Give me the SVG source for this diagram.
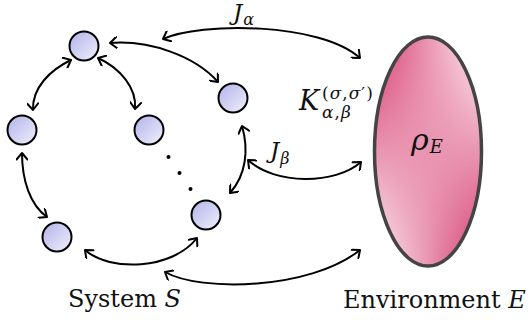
<svg xmlns="http://www.w3.org/2000/svg" width="530" height="320" viewBox="0 0 530 320">
  <style>
    .node { fill: url(#nodeGrad); stroke: #000; stroke-width: 2; }
    .conn { fill: none; stroke: #000; stroke-width: 2; marker-start: url(#arr); marker-end: url(#arr); }
    text { font-family: 'DejaVu Serif', 'Liberation Serif', serif; fill: #111; }
    .it { font-style: italic; }
  </style>
  <defs>
    <linearGradient id="nodeGrad" x1="0" y1="0" x2="1" y2="1">
      <stop offset="0" stop-color="#b2b2ea"/>
      <stop offset="1" stop-color="#f0f0fc"/>
    </linearGradient>
    <linearGradient id="envTop" gradientUnits="userSpaceOnUse" x1="374" y1="0" x2="482" y2="0">
      <stop offset="0" stop-color="#d4356a"/>
      <stop offset="1" stop-color="#fff6f9"/>
    </linearGradient>
    <linearGradient id="envBottom" gradientUnits="userSpaceOnUse" x1="374" y1="0" x2="482" y2="0">
      <stop offset="0" stop-color="#fff6f9"/>
      <stop offset="1" stop-color="#d4356a"/>
    </linearGradient>
    <linearGradient id="vFade" gradientUnits="userSpaceOnUse" x1="0" y1="37" x2="0" y2="266">
      <stop offset="0" stop-color="#fff"/>
      <stop offset="1" stop-color="#000"/>
    </linearGradient>
    <mask id="topMask" maskUnits="userSpaceOnUse" x="360" y="20" width="140" height="270">
      <rect x="360" y="20" width="140" height="270" fill="url(#vFade)"/>
    </mask>
    <clipPath id="envClip">
      <ellipse cx="428" cy="151.5" rx="53.5" ry="114.5"/>
    </clipPath>
    <marker id="arr" viewBox="-8 -6 10 12" refX="0" refY="0" markerWidth="10" markerHeight="12" markerUnits="userSpaceOnUse" orient="auto-start-reverse">
      <path d="M-6.5,-5.5 L0,0 L-6.5,5.5" fill="none" stroke="#000" stroke-width="2" stroke-linecap="round" stroke-linejoin="round"/>
    </marker>
  </defs>

  <g id="connectors">
    <path class="conn" d="M110,43 C150,40 195,56 218,82"/>
    <path class="conn" d="M71,60 C50,70 32,88 33,110"/>
    <path class="conn" d="M98,58 C120,68 137,88 135,109"/>
    <path class="conn" d="M242,126 C249,150 246,175 230,193"/>
    <path class="conn" d="M22,153 C22,180 30,205 47,217"/>
    <path class="conn" d="M85,250 C110,272 172,270 197,238"/>
    <path class="conn" d="M163,39 C200,22 320,22 360,58"/>
    <path class="conn" d="M248,160 C275,185 335,185 361,162"/>
    <path class="conn" d="M165,272 C200,292 310,290 360,250"/>
  </g>

  <g id="n1"><circle class="node" cx="84" cy="46" r="14.5"/></g>
  <g id="n2"><circle class="node" cx="233" cy="98" r="14.5"/></g>
  <g id="n3"><circle class="node" cx="22" cy="130" r="14.5"/></g>
  <g id="n4"><circle class="node" cx="149" cy="130" r="14.5"/></g>
  <g id="n5"><circle class="node" cx="57" cy="237" r="14.5"/></g>
  <g id="n6"><circle class="node" cx="206" cy="215" r="14.5"/></g>

  <g id="dots" fill="#000">
    <circle cx="168.5" cy="157" r="2"/>
    <circle cx="179.5" cy="173" r="2"/>
    <circle cx="190.5" cy="189" r="2"/>
  </g>

  <g id="environment">
    <g clip-path="url(#envClip)">
      <rect x="370" y="30" width="120" height="245" fill="url(#envBottom)"/>
      <rect x="370" y="30" width="120" height="245" fill="url(#envTop)" mask="url(#topMask)"/>
    </g>
    <ellipse cx="428" cy="151.5" rx="53.5" ry="114.5" fill="none" stroke="#444" stroke-width="3.5"/>
    <text class="it" x="411" y="150" font-size="30">ρ<tspan font-size="18" dx="1" dy="3">E</tspan></text>
  </g>

  <g id="labels">
    <text class="it" x="233" y="20" font-size="23">J<tspan font-size="16" dx="1" dy="5">α</tspan></text>
    <text class="it" x="270" y="158" font-size="23">J<tspan font-size="16" dx="1" dy="6">β</tspan></text>
    <text class="it" x="299" y="110" font-size="27">K</text>
    <text x="322" y="99" font-size="17" letter-spacing="1">(<tspan class="it">σ</tspan>,<tspan class="it">σ</tspan>′)</text>
    <text class="it" x="322" y="118" font-size="17" letter-spacing="1">α<tspan font-style="normal">,</tspan>β</text>
    <text x="68" y="307" font-size="24">System <tspan class="it">S</tspan></text>
    <text x="343" y="308" font-size="24">Environment <tspan class="it">E</tspan></text>
  </g>
</svg>
